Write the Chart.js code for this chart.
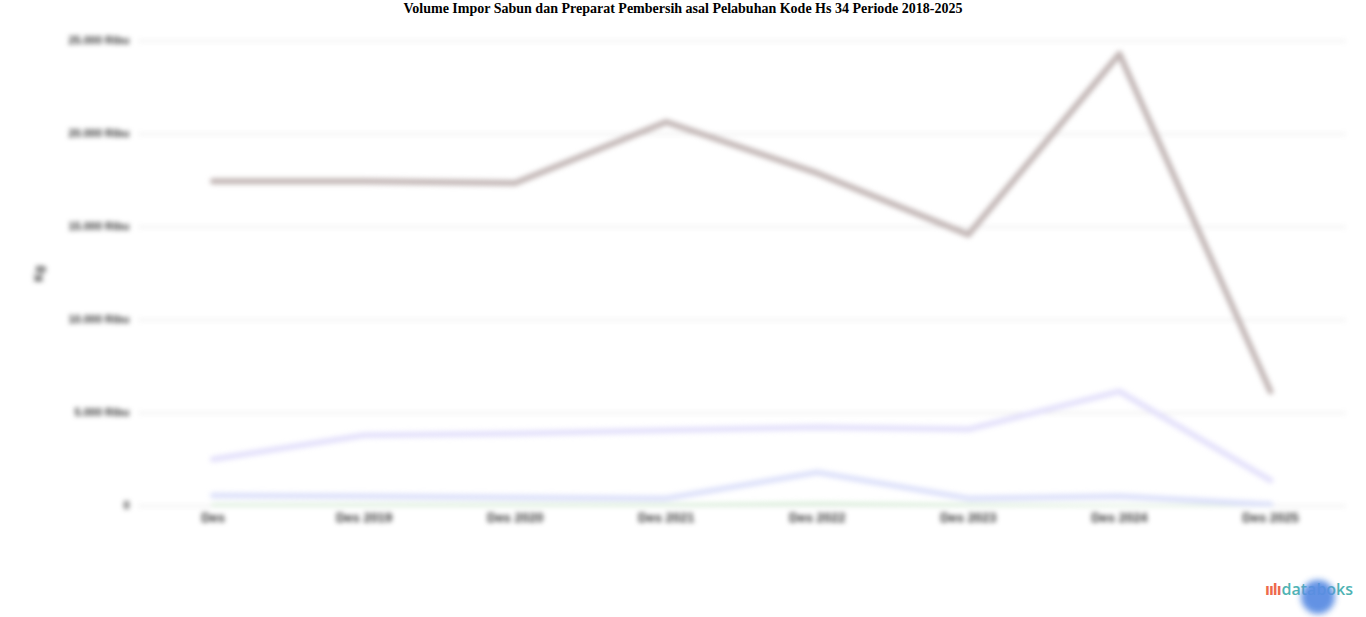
<!DOCTYPE html>
<html>
<head>
<meta charset="utf-8">
<script src="https://cdn.jsdelivr.net/npm/chart.js@4"></script>
<style>
  html, body { margin: 0; padding: 0; background: #fff; width: 1366px; height: 617px; overflow: hidden; }
  #judul { position: absolute; top: 1px; left: 0; width: 1366px; text-align: center;
           font: bold 14px "Liberation Serif", serif; color: #000; }
  #wadah { position: absolute; left: 0; top: 18px; width: 1366px; height: 530px; filter: blur(2.5px); }
  #logo { position: absolute; left: 1265px; top: 578px; font: 600 16px "Open Sans", sans-serif; color: #4fb3b3; }
  #logo span { color: #ee6a4d; font-weight: 700; letter-spacing: -1px; margin-right: 1px; }
  #bulat { position: absolute; left: 1301px; top: 580px; width: 34px; height: 34px; border-radius: 50%;
           background: #5b8de3; filter: blur(3px); opacity: 0.95; }
</style>
</head>
<body>
<div id="judul">Volume Impor Sabun dan Preparat Pembersih asal Pelabuhan Kode Hs 34 Periode 2018-2025</div>
<div id="wadah"><canvas id="grafikImpor"></canvas></div>
<div id="logo"><span>ıılı</span>databoks</div>
<div id="bulat"></div>
<script>
// Data (ribu kg)
const labelBulan = ['Des', 'Des 2019', 'Des 2020', 'Des 2021', 'Des 2022', 'Des 2023', 'Des 2024', 'Des 2025'];
const seriPertama = [17470, 17470, 17370, 20650, 17900, 14600, 24300, 6180];
const seriKedua = [2530, 3820, 3920, 4090, 4250, 4140, 6180, 1400];
const seriKetiga = [590, 540, 480, 430, 1830, 430, 540, 100];
const seriKeempat = [60, 60, 60, 60, 150, 60, 0, 0];
const tickY = [0, 5000, 10000, 15000, 20000, 25000];

function formatAngka(v) {
    if (v === 0) return '0';
    return v.toLocaleString('de-DE') + ' Ribu';
}

const ctx = document.getElementById('grafikImpor').getContext('2d');
new Chart(ctx, {
    type: 'line',
    data: {
        labels: labelBulan,
        datasets: [{
            data: seriPertama,
            borderColor: '#c2b6b5', // coklat keabuan
            borderWidth: 6
        }, {
            data: seriKedua,
            borderColor: '#e4e1fb', // ungu muda
            borderWidth: 6
        }, {
            data: seriKetiga,
            borderColor: '#dde1fa', // biru muda
            borderWidth: 6
        }, {
            data: seriKeempat,
            borderColor: '#dcefdc', // hijau
            borderWidth: 4
        }]
    },
    options: {
        responsive: true,
        maintainAspectRatio: false,
        animation: false,
        elements: { point: { radius: 0 }, line: { tension: 0, borderCapStyle: 'round', borderJoinStyle: 'round' } },
        layout: { padding: { left: 18, right: 20, top: 23, bottom: 26 } },
        plugins: { legend: { display: false }, tooltip: { enabled: false } },
        scales: {
            x: {
                offset: true,
                grid: { display: false },
                border: { display: false },
                ticks: { color: '#333', font: { size: 13, weight: 'bold' }, maxRotation: 0, padding: -4 }
            },
            y: {
                min: 0,
                max: 25000,
                afterBuildTicks: axis => { axis.ticks = tickY.map(v => ({ value: v })); },
                grid: { color: '#eeeeee', lineWidth: 2, drawTicks: false },
                border: { display: false },
                title: { display: true, text: 'Kg', color: '#333', font: { size: 12, weight: 'bold' }, padding: 14 },
                ticks: { color: '#333', font: { size: 11, weight: 'bold' }, padding: 8, callback: v => formatAngka(v) }
            }
        }
    }
});
</script>
</body>
</html>
